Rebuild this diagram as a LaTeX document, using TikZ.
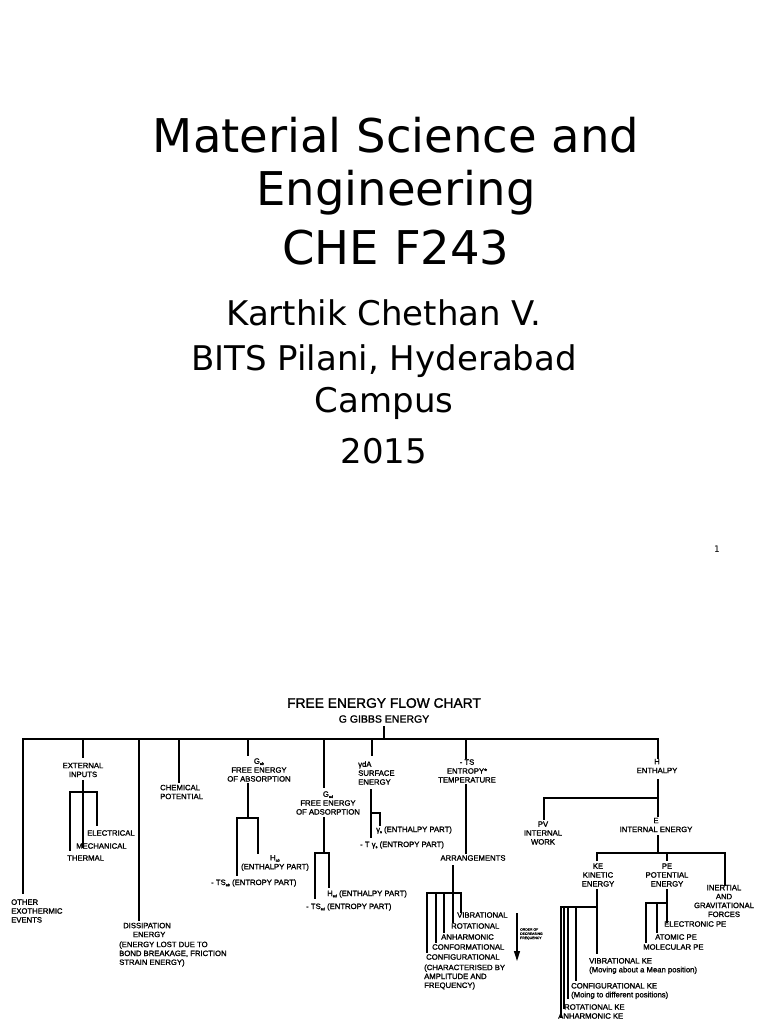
\documentclass[tikz,border=0pt]{standalone}
\usepackage{fontspec}
\usetikzlibrary{arrows.meta}
\setmainfont{DejaVu Sans}
\newfontfamily\chartfont{Liberation Sans}[FakeBold=1.5]
\newcommand{\sbs}[1]{\raisebox{-0.3ex}{\fontsize{3.8}{4}\selectfont #1}}
\begin{document}
\begin{tikzpicture}[x=1pt,y=-1pt,
  ln/.style={line width=1.6pt,line cap=rect},
  tl/.style={font=\fontsize{46.5}{46}\selectfont,inner sep=0},
  sl/.style={font=\fontsize{34}{34}\selectfont,inner sep=0},
  lb/.style={font=\chartfont\fontsize{7.7}{8.9}\selectfont,inner sep=0,align=center},
  lbl/.style={lb,anchor=west,align=left}]
\useasboundingbox (0,0) rectangle (768,1024);
% title slide
\node[tl] (t1) at (396,135) {Material Science and};
\node[tl] (t2) at (396,193) {Engineering};
\node[tl] (t3) at (396,248) {CHE F243};
\node[sl] (s1) at (384,313) {Karthik Chethan V.};
\node[sl] (s2) at (384,361) {BITS Pilani, Hyderabad};
\node[sl] (s3) at (384,403) {Campus};
\node[sl] (s4) at (384,451) {2015};
\node[font=\fontsize{9}{9}\selectfont,inner sep=0] (pg) at (717,549) {1};
% chart title
\node[lb,font=\chartfont\fontsize{13.8}{12}\selectfont] (ct) at (384,703) {FREE ENERGY FLOW CHART};
\node[lb,font=\chartfont\fontsize{10.5}{10}\selectfont] (cg) at (384,719) {G GIBBS ENERGY};
\draw[ln] (384,727) -- (384,739);
\draw[ln] (23,739) -- (658,739);
% 1 other
\draw[ln] (23,739) -- (23,893);
\node[lbl] (oe) at (11,911) {OTHER\\EXOTHERMIC\\EVENTS};
% 2 external
\draw[ln] (83,739) -- (83,757);
\node[lb] (ei) at (83,770) {EXTERNAL\\INPUTS};
\draw[ln] (83,781) -- (83,847);
\draw[ln] (70,850) -- (70,792) -- (97,792) -- (97,825);
\node[lbl] (el) at (87,833) {ELECTRICAL};
\node[lbl] (me) at (76,846) {MECHANICAL};
\node[lbl] (th) at (67,858) {THERMAL};
% 3 dissipation
\draw[ln] (139,739) -- (139,920);
\node[lb] (de) at (147,930) {DISSIPATION\\\ \ ENERGY};
\node[lbl] (dl) at (119,954) {(ENERGY LOST DUE TO\\BOND BREAKAGE, FRICTION\\STRAIN ENERGY)};
% 4 chemical
\draw[ln] (179,739) -- (179,782);
\node[lbl] (cp) at (160,792) {CHEMICAL\\POTENTIAL};
% 5 absorption
\draw[ln] (248,739) -- (248,755);
\node[lb] (gab) at (259,770) {G\sbs{ab}\\FREE ENERGY\\OF ABSORPTION};
\draw[ln] (248,784) -- (248,818);
\draw[ln] (237,875) -- (237,818) -- (258,818) -- (258,853);
\node[lb] (hab) at (275,863) {H\sbs{ab}\\(ENTHALPY PART)};
\node[lbl] (sab) at (211,883) {- TS\sbs{ab} (ENTROPY PART)};
% 6 adsorption
\draw[ln] (324,739) -- (324,787);
\node[lb] (gad) at (328,803) {G\sbs{ad}\\FREE ENERGY\\OF ADSORPTION};
\draw[ln] (324,818) -- (324,853);
\draw[ln] (315,898) -- (315,853) -- (329,853) -- (329,887);
\node[lbl] (had) at (327,894) {H\sbs{ad} (ENTHALPY PART)};
\node[lbl] (sad) at (306,907) {- TS\sbs{ad} (ENTROPY PART)};
% 7 surface
\draw[ln] (372,739) -- (372,755);
\node[lbl] (sf) at (358,773) {γdA\\SURFACE\\ENERGY};
\draw[ln] (371,790) -- (371,837);
\draw[ln] (371,813) -- (380,813) -- (380,825);
\node[lbl] (hs) at (376,830) {γ\sbs{s} (ENTHALPY PART)};
\node[lbl] (ss) at (360,845) {- T γ\sbs{s} (ENTROPY PART)};
% 8 entropy
\draw[ln] (466,739) -- (466,758);
\node[lb] (ts) at (467,771) {- TS\\ENTROPY*\\TEMPERATURE};
\draw[ln] (466,785) -- (466,853);
\node[lb] (ar) at (473,858) {ARRANGEMENTS};
\draw[ln] (453,866) -- (453,893);
\draw[ln] (427,952) -- (427,893) -- (461,893) -- (461,912);
\draw[ln] (436,893) -- (436,942);
\draw[ln] (444,893) -- (444,932);
\draw[ln] (453,893) -- (453,922);
\node[lbl] (vi) at (457,915) {VIBRATIONAL};
\node[lbl] (ro) at (451,926) {ROTATIONAL};
\node[lbl] (an) at (441,937) {ANHARMONIC};
\node[lbl] (cf) at (432,947) {CONFORMATIONAL};
\node[lbl] (cg2) at (426,957) {CONFIGURATIONAL};
\node[lbl] (ch) at (424,977) {(CHARACTERISED BY\\AMPLITUDE AND\\FREQUENCY)};
\draw[line width=1.3pt,-{Triangle[length=10pt,width=6pt]}] (517,913) -- (517,961);
\node[lbl,font=\chartfont\fontsize{3.4}{4.2}\selectfont] (od) at (520,934) {ORDER OF\\DECREASING\\FREQUENCY};
% 9 enthalpy
\draw[ln] (658,739) -- (658,758);
\node[lb] (h) at (657,766) {H\\ENTHALPY};
\draw[ln] (658,780) -- (658,816);
\draw[ln] (544,819) -- (544,798) -- (658,798);
\node[lb] (pv) at (543,833) {PV\\INTERNAL\\WORK};
\node[lb] (e) at (656,825) {E\\INTERNAL ENERGY};
\draw[ln] (658,836) -- (658,853);
\draw[ln] (597,860) -- (597,853) -- (725,853) -- (725,885);
\draw[ln] (667,853) -- (667,860);
\node[lb] (ke) at (598,875) {KE\\KINETIC\\ENERGY};
\node[lb] (pe) at (667,875) {PE\\POTENTIAL\\ENERGY};
\node[lb] (ig) at (724,901) {INERTIAL\\AND\\GRAVITATIONAL\\FORCES};
\draw[ln] (597,890) -- (597,953);
\draw[ln] (561,1017) -- (561,907) -- (597,907);
\draw[ln] (564,907) -- (564,1008);
\draw[ln] (568,907) -- (568,998);
\draw[ln] (576,907) -- (576,980);
\node[lbl] (vk) at (589,966) {VIBRATIONAL KE\\(Moving about a Mean position)};
\node[lbl] (ck) at (571,991) {CONFIGURATIONAL KE\\(Moing to different positions)};
\node[lbl] (rk) at (564,1007) {ROTATIONAL KE};
\node[lbl] (ak) at (558,1016) {ANHARMONIC KE};
\draw[ln] (667,890) -- (667,922);
\draw[ln] (646,942) -- (646,903) -- (667,903);
\draw[ln] (657,903) -- (657,932);
\node[lbl] (ep) at (664,924) {ELECTRONIC PE};
\node[lbl] (ap) at (655,937) {ATOMIC PE};
\node[lbl] (mp) at (643,947) {MOLECULAR PE};
\end{tikzpicture}
\end{document}
